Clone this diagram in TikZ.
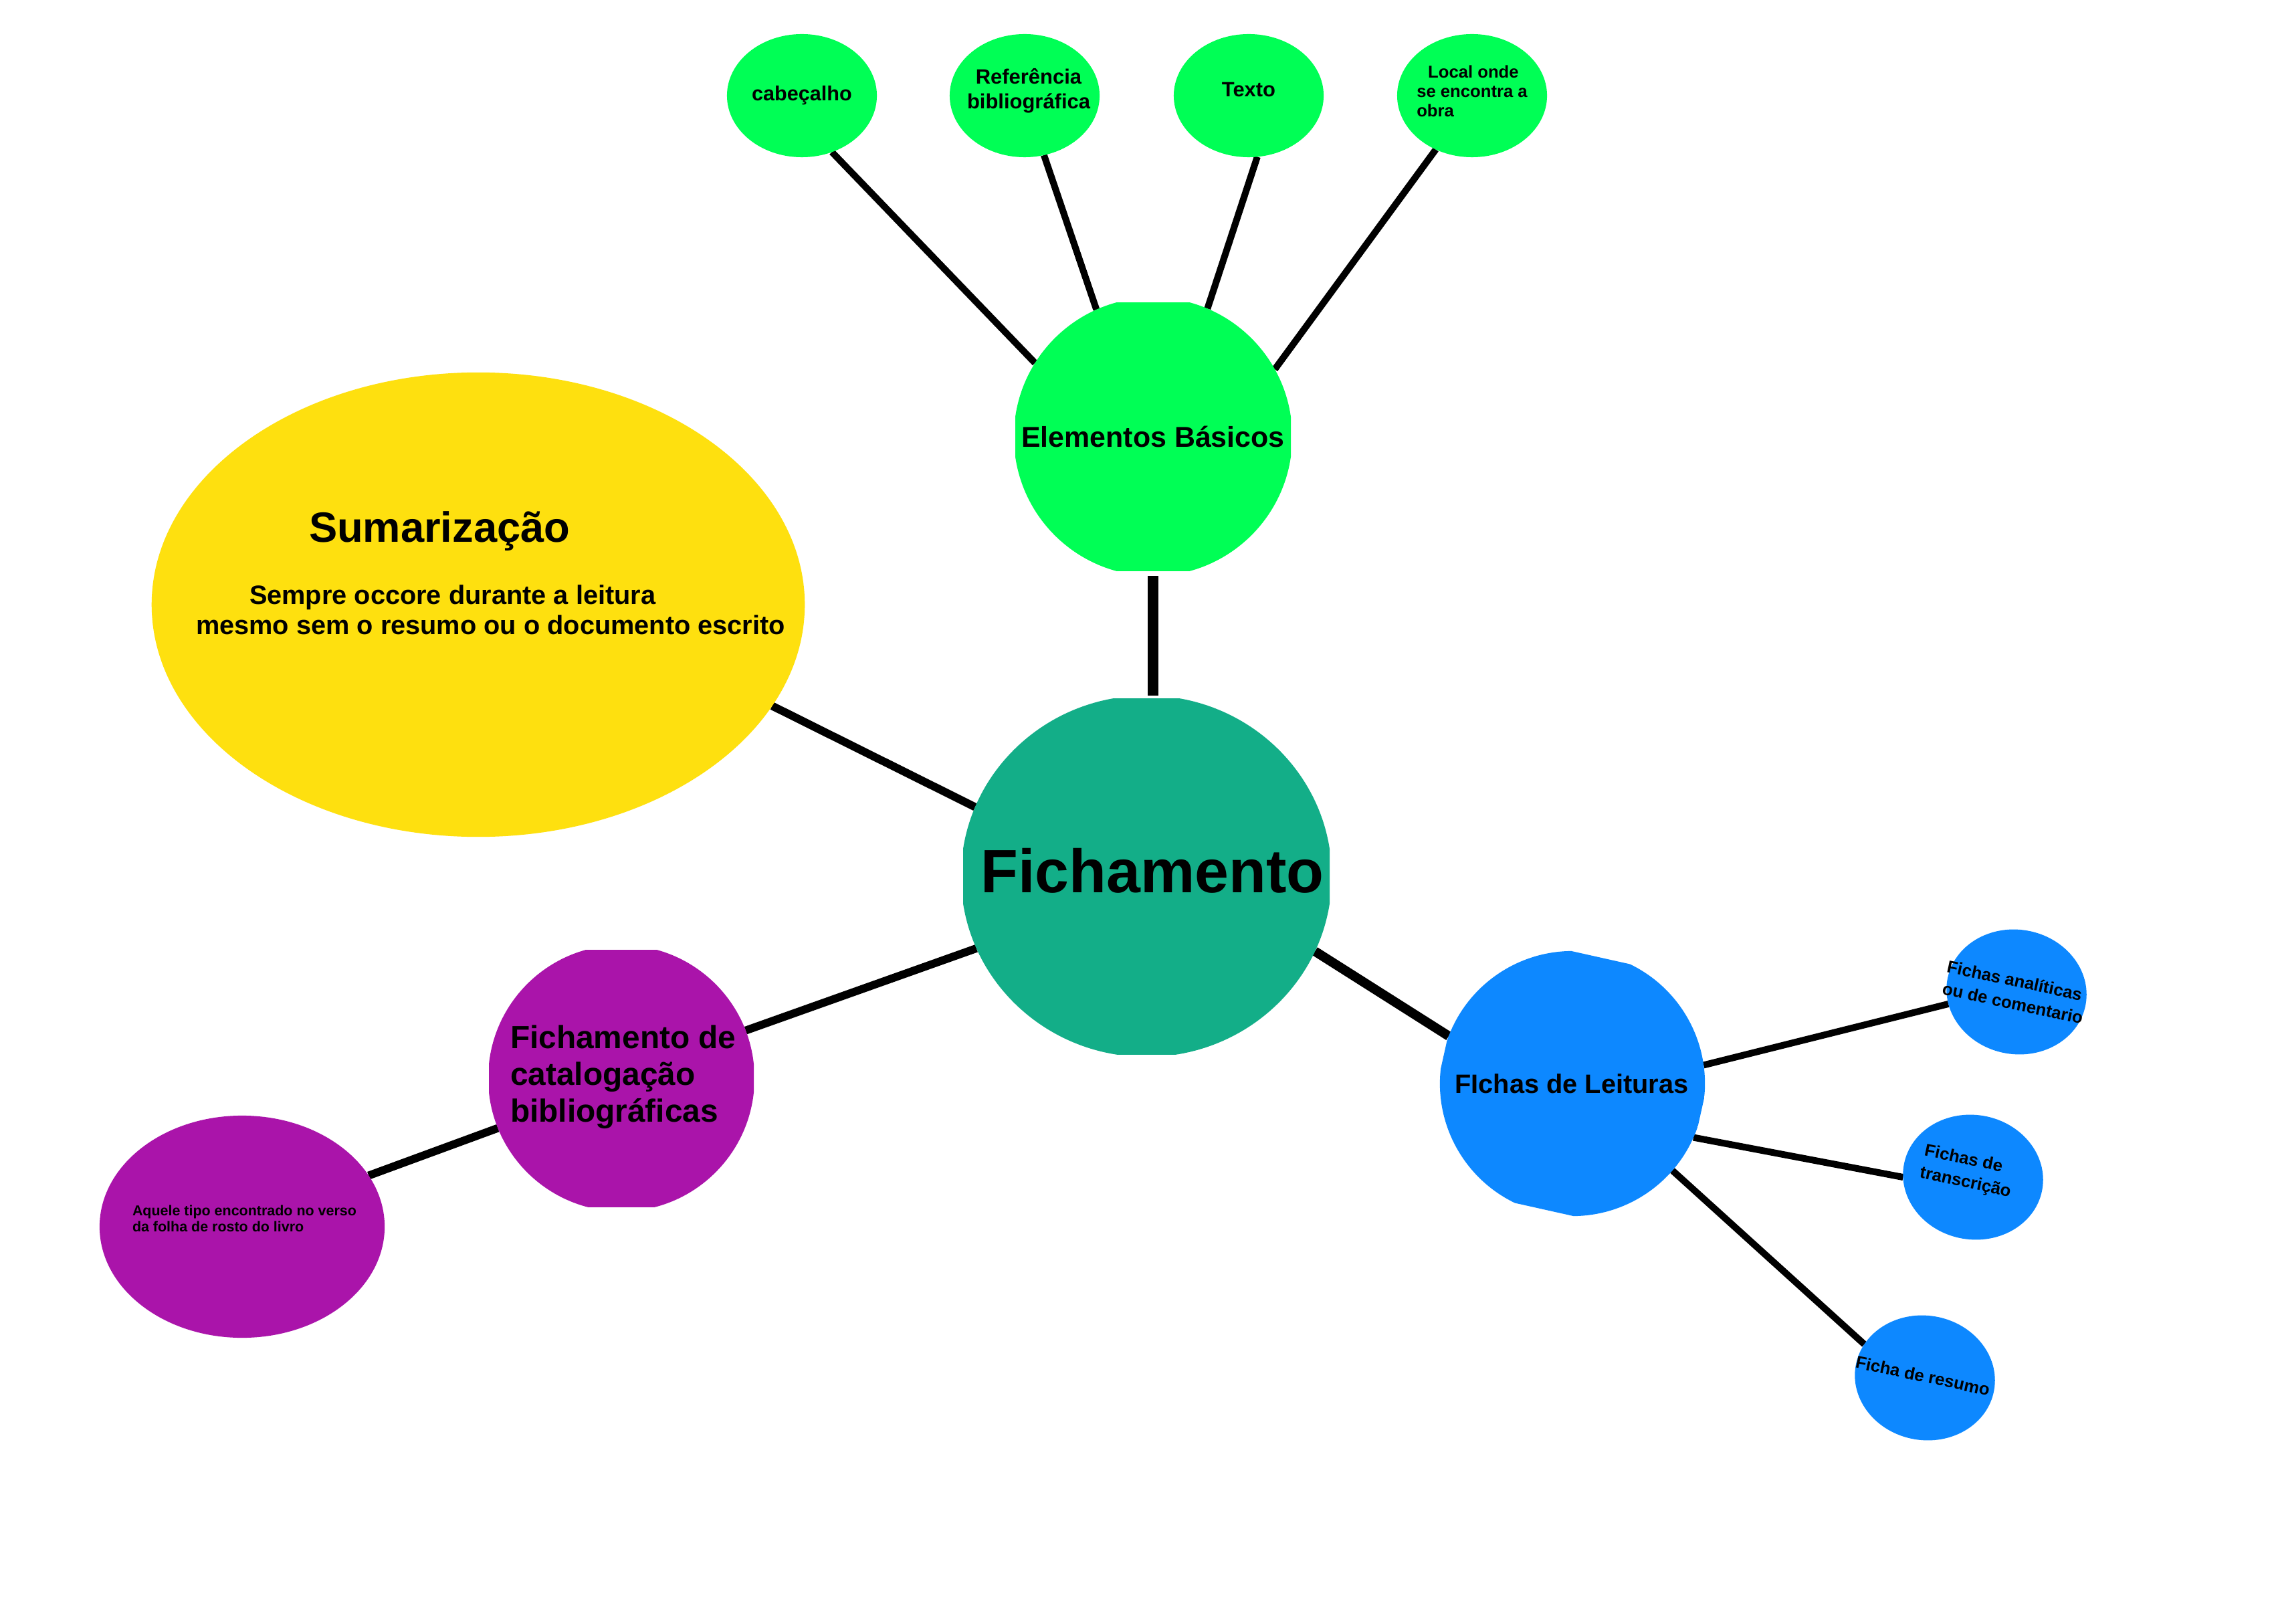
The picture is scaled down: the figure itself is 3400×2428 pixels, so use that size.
\documentclass[tikz,border=0pt]{standalone}
\usepackage{fontspec}
\setmainfont{Liberation Sans}
\usetikzlibrary{shapes.geometric,calc}
\definecolor{cgreen}{RGB}{0,255,85}
\definecolor{cteal}{RGB}{19,174,136}
\definecolor{cyellow}{RGB}{254,224,15}
\definecolor{cpurple}{RGB}{170,20,170}
\definecolor{cblue}{RGB}{13,136,255}
\pgfdeclarelayer{lines}
\pgfdeclarelayer{fills}
\pgfsetlayers{lines,fills,main}
\newcommand\fsz[2]{\fontsize{#1}{#2}\selectfont\bfseries}
\tikzset{
  every node/.style={inner sep=0pt, outer sep=0pt},
  bubble/.style={ellipse, inner sep=0pt},
  hub/.style={circle, inner sep=0pt},
  conn/.style={line width=3.4pt},
  thinconn/.style={line width=2.85pt},
  thickconn/.style={line width=4.5pt},
  smallgreen/.style={bubble, fill=cgreen, minimum width=2.24cm, minimum height=1.84cm},
  smallblue/.style={bubble, fill=cblue, minimum width=2.1cm, minimum height=1.86cm, rotate=-10},
  bluetext/.style={rotate=-12, align=left, font=\fsz{7.3}{9.6}},
}
\begin{document}
\begin{tikzpicture}[x=0.01cm,y=-0.01cm]
\begin{pgfonlayer}{lines}
\fill[white] (0,0) rectangle (3400,2428);
\end{pgfonlayer}
\useasboundingbox (0,0) rectangle (3400,2428);

% hub nodes (shapes only)
\node[hub, minimum size=4.16cm] (elem) at (1724,653) {};
\node[ellipse, inner sep=0pt, minimum width=5.54cm, minimum height=5.40cm] (fich) at (1714,1310) {};
\node[hub, minimum size=3.98cm] (cat) at (929,1612) {};
\node[hub, minimum size=3.96cm] (fl) at (2351,1620) {};

% clipped fills of hubs
\begin{pgfonlayer}{fills}
\begin{scope}
  \clip ($(elem)+(-206,-200)$) rectangle ($(elem)+(206,200)$);
  \fill[cgreen] (elem) circle [radius=2.08cm];
\end{scope}
\begin{scope}
  \clip ($(fich)+(-274,-266)$) rectangle ($(fich)+(274,266)$);
  \fill[cteal] (fich) ellipse [x radius=2.77cm, y radius=2.70cm];
\end{scope}
\begin{scope}
  \clip ($(cat)+(-198,-192)$) rectangle ($(cat)+(198,192)$);
  \fill[cpurple] (cat) circle [radius=1.99cm];
\end{scope}
\begin{scope}[shift={(fl.center)}, rotate=-12.6]
  \clip (-197,-193) rectangle (197,193);
  \fill[cblue] (0,0) circle [radius=1.98cm];
\end{scope}
\end{pgfonlayer}

% hub texts
\node[font=\fsz{26}{30}] (ficht) at (1723,1302) {Fichamento};
\node[font=\fsz{12.2}{14}] (elemt) at (1724,653) {Elementos Básicos};
\node[font=\fsz{11.3}{13}] (flt) at (2350,1620) {FIchas de Leituras};
\node[font=\fsz{13.6}{15.6}, anchor=base west] (catt1) at (763,1567) {Fichamento de};
\node[font=\fsz{13.6}{15.6}, anchor=base west] (catt2) at (763,1622) {catalogação};
\node[font=\fsz{13.6}{15.6}, anchor=base west] (catt3) at (763,1677) {bibliográficas};

% Sumarizacao
\node[bubble, fill=cyellow, minimum width=9.76cm, minimum height=6.94cm] (sum) at (715,904) {};
\node[font=\fsz{18}{21}, anchor=base west] (sumt) at (462,810) {Sumarização};
\node[font=\fsz{11.3}{13}, anchor=base west] (suml1) at (373,903) {Sempre occore durante a leitura};
\node[font=\fsz{11.3}{13}, anchor=base west] (suml2) at (293,948) {mesmo sem o resumo ou o documento escrito};

% Aquele
\node[bubble, fill=cpurple, minimum width=4.26cm, minimum height=3.32cm] (aq) at (362,1834) {};
\node[font=\fsz{6.1}{7}, anchor=base west] (aqt1) at (198,1817) {Aquele tipo encontrado no verso};
\node[font=\fsz{6.1}{7}, anchor=base west] (aqt2) at (198,1841) {da folha de rosto do livro};

% small green
\node[smallgreen, font=\fsz{8.7}{10.4}] (cab) at (1199,143) {cabeçalho};
\node[smallgreen] (ref) at (1532,143) {};
\node[smallgreen] (texto) at (1867,143) {};
\node[smallgreen] (local) at (2201,143) {};
\node[font=\fsz{8.8}{10.4}, align=center] (reft) at (1538,136) {Referência\\bibliográfica};
\node[font=\fsz{8.8}{10.4}] (textot) at (1867,134) {Texto};
\node[font=\fsz{7.3}{8.2}, align=left] (localt) at (2201,136) {\hspace{4.8pt}Local onde\\se encontra a\\obra};

% small blue
\node[smallblue] (ana) at (3015,1483) {};
\node[smallblue] (tra) at (2950,1760) {};
\node[smallblue] (res) at (2878,2060) {};
\node[bluetext] (anat) at (3013,1483) {Fichas analíticas\\ou de comentario};
\node[bluetext] (trat) at (2942,1752) {Fichas de\\transcrição};
\node[bluetext] (rest) at (2875,2057) {Ficha de resumo};

% connectors
\begin{pgfonlayer}{lines}
\draw[thinconn] (cab.-62) -- (elem.148);
\draw[thinconn] (ref.-72) -- (elem.114);
\draw[thinconn] (texto.-82) -- (elem.67);
\draw[thinconn] (local.-124) -- (elem.29);
\draw[thickconn] (elem.south) -- (elem.south |- fich.north);
\draw[conn] (sum.-19.5) -- (fich.158.7);
\draw[conn] (fich.-157.8) -- (cat.21.4);
\draw[conn] (cat.202) -- (aq.22);
\draw[line width=4pt] (fich.-24.3) -- (fl.159);
\draw[thinconn] (fl.8.1) -- (ana.200.5);
\draw[thinconn] (fl.-24.9) -- (tra.190);
\draw[thinconn] (fl.-41.5) -- (res.161.5);
\end{pgfonlayer}
\end{tikzpicture}
\end{document}
